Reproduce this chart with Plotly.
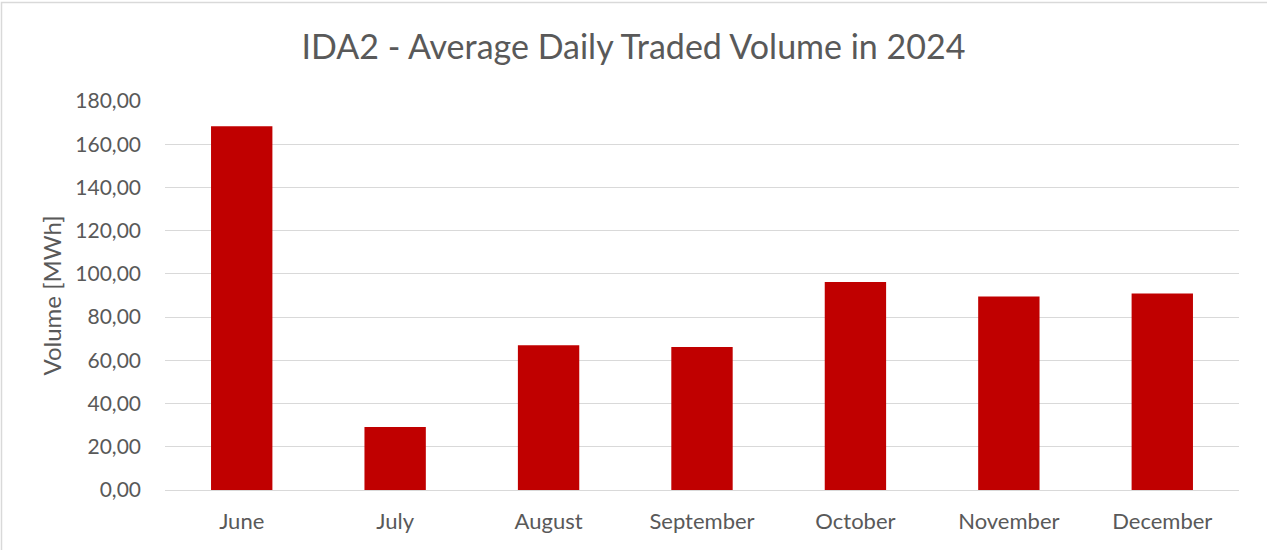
import plotly.graph_objects as go

months = ["June", "July", "August", "September", "October", "November", "December"]
volume = [168.3, 29.2, 67.0, 66.2, 96.2, 89.5, 90.9]
y_ticks = [0, 20, 40, 60, 80, 100, 120, 140, 160, 180]

TEXT = "#595959"
GRID = "#D9D9D9"
FONT = "Lato, 'Open Sans', sans-serif"

fig = go.Figure(
    go.Bar(x=months, y=volume, marker=dict(color="#C00000", line=dict(width=0)))
)

W, H = 1267, 550
ml, mr, mt, mb = 165, 28, 101, 60
pw, ph = W - ml - mr, H - mt - mb

fig.update_layout(
    width=W, height=H,
    margin=dict(l=ml, r=mr, t=mt, b=mb),
    paper_bgcolor="white", plot_bgcolor="white",
    separators=",.",
    bargap=0.6,
    showlegend=False,
    font=dict(family=FONT, color=TEXT),
    title=dict(text="IDA2 - Average Daily Traded Volume in 2024",
               x=0.5, xanchor="center", xref="container",
               y=1 - 47 / H, yanchor="middle",
               font=dict(size=34, color=TEXT, family=FONT)),
)
fig.update_xaxes(showgrid=False, showline=True, linecolor=GRID, linewidth=1,
                 tickfont=dict(size=22, color=TEXT), ticks="", ticklabelstandoff=12)
fig.update_yaxes(range=[0, 180], tickvals=y_ticks, tickformat=".2f",
                 showgrid=True, gridcolor=GRID, gridwidth=1, zeroline=False,
                 showline=False, ticks="", ticklabelstandoff=23,
                 tickfont=dict(size=21, color=TEXT),
                 title=dict(text="Volume [MWh]", font=dict(size=24, color=TEXT), standoff=6))

# outer chart border (top & left visible)
fig.add_shape(type="rect", xref="paper", yref="paper",
              x0=(1.5 - ml) / pw, x1=(W + 5 - ml) / pw,
              y0=(H - mb - (H + 5)) / ph, y1=(H - mb - 2.5) / ph,
              line=dict(color=GRID, width=1.5), fillcolor="rgba(0,0,0,0)", layer="below")

fig.write_html("out.html", config={"displayModeBar": False},
               post_script="document.body.style.margin='0';")
